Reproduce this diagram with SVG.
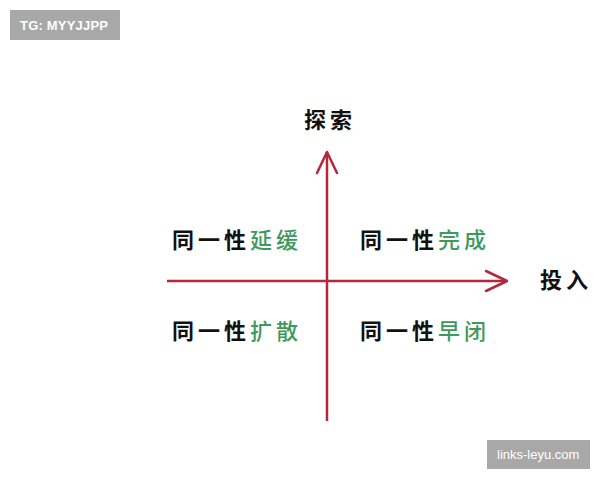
<svg xmlns="http://www.w3.org/2000/svg" width="600" height="480" viewBox="0 0 600 480">
<style>
.badge{fill:#a8a8a8}
.btxt{font-family:"Liberation Sans","DejaVu Sans",sans-serif;fill:#ffffff;font-size:13px}
.lbl{font-family:"Noto Sans CJK SC",sans-serif;font-size:22px;letter-spacing:4px}
.blk{fill:#111111;font-weight:bold}
.grn{fill:#3e9a5c;font-weight:500}
.axis{stroke:#b3283a;stroke-width:2.5;fill:none}
.head{stroke:#b3283a;stroke-width:2.5;fill:none;stroke-linecap:round;stroke-linejoin:round}
</style>
<rect width="600" height="480" fill="#ffffff"/>
<g id="badge-tg">
<rect class="badge" x="10" y="10" width="110" height="30"/>
<text class="btxt" x="20" y="30" font-size="14" font-weight="bold" textLength="88">TG: MYYJJPP</text>
</g>
<g id="badge-links">
<rect class="badge" x="487" y="440" width="103" height="29"/>
<text class="btxt" x="497" y="459" font-size="12.5">links-leyu.com</text>
</g>
<g id="connectors">
<line class="axis" x1="327" y1="152" x2="327" y2="421"/>
<polyline class="head" points="317,173 327,152 337,173"/>
<line class="axis" x1="167" y1="281" x2="507" y2="281"/>
<polyline class="head" points="486,271 507,281 486,291"/>
</g>
<g id="axis-y-label"><text class="lbl blk" x="304" y="128" font-size="21">探索</text></g>
<g id="axis-x-label"><text class="lbl blk" x="540" y="288" font-size="21">投入</text></g>
<g id="q-top-left"><text class="lbl" x="172" y="248"><tspan class="blk">同一性</tspan><tspan class="grn">延缓</tspan></text></g>
<g id="q-top-right"><text class="lbl" x="360" y="248"><tspan class="blk">同一性</tspan><tspan class="grn">完成</tspan></text></g>
<g id="q-bottom-left"><text class="lbl" x="172" y="339"><tspan class="blk">同一性</tspan><tspan class="grn">扩散</tspan></text></g>
<g id="q-bottom-right"><text class="lbl" x="360" y="339"><tspan class="blk">同一性</tspan><tspan class="grn">早闭</tspan></text></g>
</svg>
